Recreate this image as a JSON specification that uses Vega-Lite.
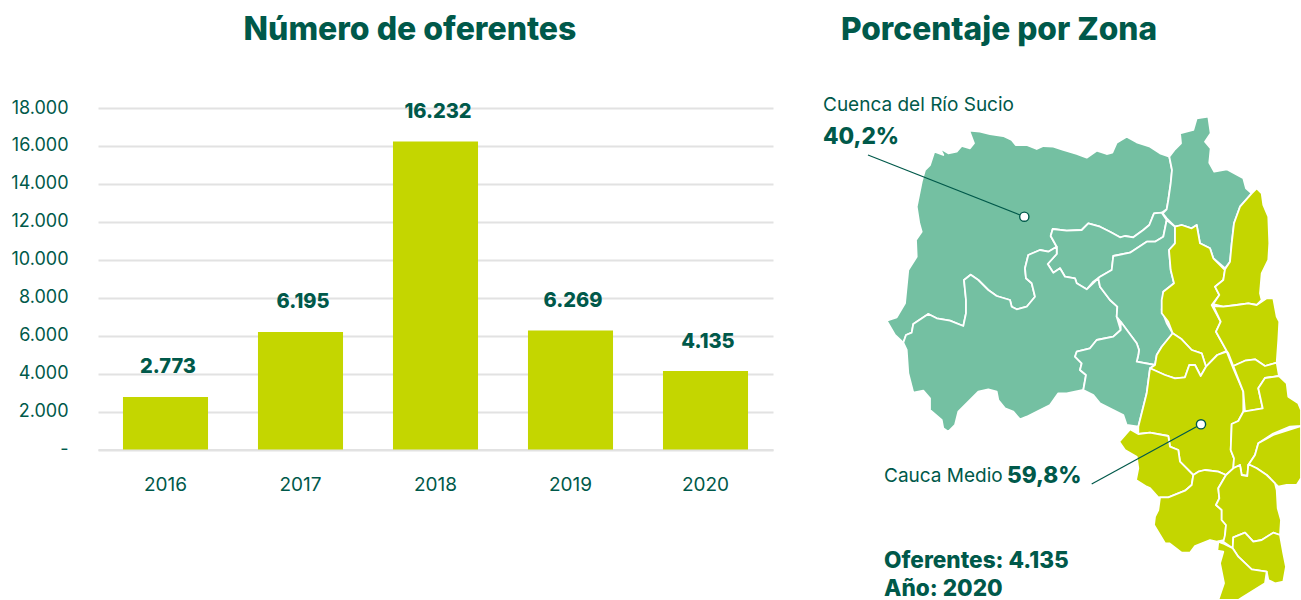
{
"$schema":"https://vega.github.io/schema/vega-lite/v6.json",
"padding":{"left":0,"top":14,"right":0,"bottom":0},
"spacing":0,
"background":"white",
"config":{"view":{"stroke":null},"font":"Inter"},
"hconcat":[
{
"width":675,"height":492,
"title":{"text":"Número de oferentes","font":"Inter","fontSize":32,"fontWeight":800,"color":"#00594a","anchor":"middle","dx":-25.5,"offset":52},
"data":{"values":[
{"year":"2016","value":2773,"label":"2.773"},
{"year":"2017","value":6195,"label":"6.195"},
{"year":"2018","value":16232,"label":"16.232"},
{"year":"2019","value":6269,"label":"6.269"},
{"year":"2020","value":4135,"label":"4.135"}]},
"encoding":{
"x":{"field":"year","type":"nominal","sort":null,"title":null,
"scale":{"paddingInner":0.37,"paddingOuter":0.185},
"axis":{"orient":"bottom","offset":-150.5,"labelPadding":26,"labelAngle":0,"ticks":false,"domain":true,"domainColor":"#e2e2e2","domainWidth":2,"labelColor":"#00594a","labelFont":"Inter","labelFontSize":19,"labelFontWeight":400,"grid":false}},
"y":{"field":"value","type":"quantitative","title":null,
"scale":{"domain":[-7932.6,18000],"nice":false,"zero":false},
"axis":{"values":[0,2000,4000,6000,8000,10000,12000,14000,16000,18000],"labelExpr":"datum.value==0?'-':replace(format(datum.value,','),',','.')","ticks":false,"domain":false,"grid":true,"gridColor":"#e2e2e2","gridWidth":2,"labelColor":"#00594a","labelFont":"Inter","labelFontSize":18,"labelPadding":30,"minExtent":98,"maxExtent":98}}
},
"layer":[
{"mark":{"type":"bar","color":"#c4d600"}},
{"mark":{"type":"text","font":"Inter","fontSize":20,"fontWeight":800,"color":"#00594a","dy":-29.5,"dx":2.5,"baseline":"middle"},"encoding":{"text":{"field":"label"}}}
]
},
{
"width":528,"height":492,
"title":{"text":"Porcentaje por Zona","font":"Inter","fontSize":31.7,"fontWeight":800,"color":"#00594a","anchor":"middle","dx":-38,"offset":49},
"projection":{"type":"identity","scale":1,"translate":[-773,-108]},
"layer":[
{
"data":{"values":{"type":"FeatureCollection","features":[
{"type":"Feature","properties":{"zona":"Cuenca del Río Sucio"},"geometry":{"type":"Polygon","coordinates":[[[969.3,130.7],[980,131.7],[990,134],[1003.3,136],[1011.7,140],[1015.7,145],[1026.7,145],[1036.7,149],[1043.3,146],[1053.3,146.7],[1063.3,150],[1076.7,154],[1086.7,157.7],[1096.7,150.7],[1106.7,154],[1112.3,152.7],[1116.7,142.7],[1126.7,136.7],[1136.7,142.3],[1150,146.7],[1160,153.3],[1169.3,156.7],[1172,170],[1170.7,183.3],[1168.3,200],[1166.7,209.3],[1161.7,212.7],[1154,213.3],[1149.3,225],[1143.3,230],[1133.3,237.3],[1125,236],[1120,237.3],[1110,231.7],[1100,226.7],[1088.3,223.3],[1081.7,230],[1066.7,230.7],[1052.7,229],[1050.7,236],[1056.7,246.7],[1048.3,251.7],[1040,250],[1028.3,255],[1025,268.3],[1026,278.3],[1031.7,283.3],[1035,296.7],[1026.7,306.7],[1016.7,309.3],[1011.7,306.7],[1010,300],[996.7,296],[988.3,290],[978.3,280],[970.7,274.7],[964,280],[966,300],[966,313.3],[963.3,326],[950,320.7],[936.7,318.3],[928.3,314],[913.3,324],[911.7,332.7],[906,335],[903.3,342.7],[895,335],[886.7,320.7],[896.7,317.3],[905,303.3],[908.3,270],[916.7,256.7],[916,240],[921.7,231.7],[919.3,223.3],[916.7,206.7],[921.7,181.7],[925,170],[930,165],[934.3,151.7],[939.3,153.3],[943.3,155],[940,148.3],[948.3,153.3],[956.7,151.7],[961.7,146],[970,148.3],[974,143.3],[969.3,130.7]]]}},
{"type":"Feature","properties":{"zona":"Cuenca del Río Sucio"},"geometry":{"type":"Polygon","coordinates":[[[1169.3,156.7],[1175,149.3],[1181,143.3],[1180,133.3],[1193.3,130],[1196.7,118.3],[1208.3,116.7],[1210.7,133.3],[1205,141.7],[1210.7,148.3],[1209.3,162.7],[1214.3,171.7],[1226.7,169.3],[1243.3,178.3],[1246,188.3],[1251.7,193.3],[1240,206.7],[1234,223.3],[1231.7,243.3],[1230,261.7],[1225,268.3],[1213.3,258.3],[1210,248.3],[1200,243.3],[1196.7,225],[1191.7,228.3],[1181.7,225],[1175,226.7],[1166.7,218.3],[1162.7,213.3],[1166.7,209.3],[1168.3,200],[1170.7,183.3],[1172,170],[1169.3,156.7]]]}},
{"type":"Feature","properties":{"zona":"Cuenca del Río Sucio"},"geometry":{"type":"Polygon","coordinates":[[[1052.7,229],[1066.7,230.7],[1081.7,230],[1088.3,223.3],[1100,226.7],[1110,231.7],[1120,237.3],[1125,236],[1133.3,237.3],[1143.3,230],[1149.3,225],[1154,213.3],[1161.7,212.7],[1166.7,220],[1163.3,236.7],[1155,241.7],[1146.7,241.7],[1130,252.7],[1113.3,256],[1111.7,270],[1100,276.7],[1093.3,281.7],[1086.7,289.3],[1076.7,283.3],[1075,278.3],[1065,276.7],[1060,268.3],[1053.3,272.7],[1047.7,264],[1056.7,254],[1056.7,246.7],[1050.7,236],[1052.7,229]]]}},
{"type":"Feature","properties":{"zona":"Cuenca del Río Sucio"},"geometry":{"type":"Polygon","coordinates":[[[1056.7,246.7],[1056.7,254],[1047.7,264],[1053.3,272.7],[1060,268.3],[1065,276.7],[1075,278.3],[1076.7,283.3],[1086.7,289.3],[1098.3,278.3],[1100,286.7],[1110,300],[1117.3,306.7],[1116.7,316.7],[1120.7,330],[1113.3,336.7],[1096.7,340],[1090,348.3],[1076.7,351.7],[1075,356.7],[1081.7,363.3],[1080,370],[1086,375],[1083.3,390],[1066.7,393.3],[1058.3,393.3],[1050,405],[1040,410],[1026.7,416.7],[1020,419.3],[1013.3,411.7],[1005,408.3],[998.3,400],[996.7,391.7],[988.3,389.3],[978.3,391.7],[968.3,401.7],[958.3,411.7],[955,425],[948.3,431.7],[943.3,428.3],[941.7,420],[930,410],[930,398.3],[923.3,390.7],[913.3,392.7],[908.3,373.3],[906.7,350],[903.3,342.7],[906,335],[911.7,332.7],[913.3,324],[928.3,314],[936.7,318.3],[950,320.7],[963.3,326],[966,313.3],[966,300],[964,280],[970.7,274.7],[978.3,280],[988.3,290],[996.7,296],[1010,300],[1011.7,306.7],[1016.7,309.3],[1026.7,306.7],[1035,296.7],[1031.7,283.3],[1026,278.3],[1025,268.3],[1028.3,255],[1040,250],[1048.3,251.7],[1056.7,246.7]]]}},
{"type":"Feature","properties":{"zona":"Cuenca del Río Sucio"},"geometry":{"type":"Polygon","coordinates":[[[1166.7,220],[1175,226.7],[1175,243.3],[1169,250],[1170.7,270],[1174,283.3],[1163.3,291.7],[1161.7,310],[1166.7,323.3],[1172.7,333.3],[1161.7,346.7],[1156.7,355],[1155,365],[1136.7,361.7],[1138.3,355],[1139,350],[1136.7,343.3],[1120.7,321.7],[1116.7,316.7],[1117.3,306.7],[1110,300],[1100,286.7],[1098.3,278.3],[1100,276.7],[1111.7,270],[1113.3,256],[1130,252.7],[1146.7,241.7],[1155,241.7],[1163.3,236.7],[1166.7,220]]]}},
{"type":"Feature","properties":{"zona":"Cuenca del Río Sucio"},"geometry":{"type":"Polygon","coordinates":[[[1120.7,321.7],[1136.7,343.3],[1139,350],[1138.3,355],[1136.7,361.7],[1155,365],[1150,368.3],[1146.7,393.3],[1138.3,426.7],[1126.7,425],[1123.3,415],[1113.3,410],[1100,403.3],[1093.3,395],[1083.3,390],[1086,375],[1080,370],[1081.7,363.3],[1075,356.7],[1076.7,351.7],[1090,348.3],[1096.7,340],[1113.3,336.7],[1120.7,330],[1120.7,321.7]]]}},
{"type":"Feature","properties":{"zona":"Cauca Medio"},"geometry":{"type":"Polygon","coordinates":[[[1175,226.7],[1181.7,225],[1191.7,228.3],[1196.7,225],[1200,243.3],[1210,248.3],[1213.3,258.3],[1225,270],[1223.3,280],[1215,286.7],[1219.3,295],[1211.7,305],[1220.7,321.7],[1216,331.7],[1226.7,350.7],[1217.3,355],[1206,366.7],[1201.7,353.3],[1191.7,350],[1181.7,339.3],[1172.7,333.3],[1168.3,321.7],[1161.7,313.3],[1161.7,300],[1163.3,291.7],[1174,283.3],[1170.7,270],[1169,250],[1175,243.3],[1175,226.7]]]}},
{"type":"Feature","properties":{"zona":"Cauca Medio"},"geometry":{"type":"Polygon","coordinates":[[[1172.7,333.3],[1181.7,339.3],[1191.7,350],[1201.7,353.3],[1206,366.7],[1200.7,376],[1195,365],[1189.3,365],[1185,377.3],[1175,378.3],[1165,375],[1150,368.3],[1155,365],[1156.7,355],[1161.7,346.7],[1172.7,333.3]]]}},
{"type":"Feature","properties":{"zona":"Cauca Medio"},"geometry":{"type":"Polygon","coordinates":[[[1150,368.3],[1165,375],[1175,378.3],[1185,377.3],[1189.3,365],[1195,365],[1200.7,376],[1206,366.7],[1217.3,355],[1226.7,351.7],[1233.3,368.3],[1243.3,391.7],[1243.3,411.7],[1238.3,421],[1231.7,424],[1230.7,450],[1234,458.3],[1233.3,468.3],[1226,475],[1218.3,471.7],[1205,470],[1198.3,471.7],[1193.3,475],[1180,461.7],[1178.3,450],[1170,446.7],[1168.3,436],[1150,432.7],[1138.3,434],[1138.3,426.7],[1146.7,393.3],[1150,368.3]]]}},
{"type":"Feature","properties":{"zona":"Cauca Medio"},"geometry":{"type":"Polygon","coordinates":[[[1251.7,193.3],[1256.7,188.3],[1261.7,193.3],[1263.3,205],[1268.3,216.7],[1269.3,243.3],[1268.3,260],[1261.7,273.3],[1260,293.3],[1261.7,300],[1256.7,305],[1248.3,303.3],[1236.7,305],[1223.3,306.7],[1213.3,304],[1219.3,295],[1215,286.7],[1223.3,280],[1225,269.3],[1230,261.7],[1231.7,243.3],[1234,223.3],[1240,206.7],[1251.7,193.3]]]}},
{"type":"Feature","properties":{"zona":"Cauca Medio"},"geometry":{"type":"Polygon","coordinates":[[[1213.3,306],[1223.3,306.7],[1236.7,305],[1248.3,303.3],[1256.7,305],[1266.7,298.3],[1273.3,298.3],[1276.7,316.7],[1279.3,321.7],[1278.3,340],[1276.7,362.7],[1265,366],[1255,359.3],[1245,360.7],[1233.3,366],[1228.3,353.3],[1226.7,351],[1216,331.7],[1220.7,321.7],[1213.3,306]]]}},
{"type":"Feature","properties":{"zona":"Cauca Medio"},"geometry":{"type":"Polygon","coordinates":[[[1233.3,366],[1245,360.7],[1255,359.3],[1265,366],[1276.7,362.7],[1279,376],[1265,378],[1258.3,388.3],[1262.7,408.3],[1245,411.7],[1243.3,391.7],[1233.3,366]]]}},
{"type":"Feature","properties":{"zona":"Cauca Medio"},"geometry":{"type":"Polygon","coordinates":[[[1279,376],[1286.7,383.3],[1288.3,396.7],[1298.3,403.3],[1301,410],[1301,426],[1290,426.7],[1273.3,433.5],[1258.3,443.3],[1255,455],[1248.3,465],[1247.3,476],[1241.7,475],[1240,465],[1233.3,468.3],[1234,458.3],[1230.7,450],[1231.7,424],[1238.3,421],[1243.3,411.7],[1262.7,408.3],[1258.3,388.3],[1265,378],[1279,376]]]}},
{"type":"Feature","properties":{"zona":"Cauca Medio"},"geometry":{"type":"Polygon","coordinates":[[[1301,426],[1273.3,435],[1258.3,443.3],[1255,455],[1248.3,465],[1250,465],[1256.7,468.3],[1266.7,475],[1275,483.3],[1278.3,486.7],[1286.7,485],[1296.7,485],[1301,478.3],[1301,426]]]}},
{"type":"Feature","properties":{"zona":"Cauca Medio"},"geometry":{"type":"Polygon","coordinates":[[[1138.3,434],[1130,429.3],[1119.3,441.7],[1125,450],[1136.7,456.7],[1138.3,468.3],[1136,480],[1146.7,486.7],[1150,488],[1158.3,497.3],[1168.3,497.3],[1185,490.7],[1191.7,485],[1193.3,475],[1180,461.7],[1178.3,450],[1170,446.7],[1168.3,436],[1150,432.7],[1138.3,434]]]}},
{"type":"Feature","properties":{"zona":"Cauca Medio"},"geometry":{"type":"Polygon","coordinates":[[[1160,497.3],[1158.3,510],[1155,516.7],[1154,525],[1165,543.3],[1169.3,543.3],[1181.7,552.7],[1190,552.7],[1195,546],[1210,540],[1216.7,541.7],[1225,540],[1225,535],[1226,525],[1221.7,520],[1221.7,510],[1216,505],[1219.3,498.3],[1218.3,488.3],[1226,475],[1218.3,471.7],[1205,470],[1198.3,471.7],[1193.3,475],[1191.7,485],[1185,490.7],[1168.3,497.3],[1160,497.3]]]}},
{"type":"Feature","properties":{"zona":"Cauca Medio"},"geometry":{"type":"Polygon","coordinates":[[[1226,475],[1233.3,468.3],[1240,465],[1241.7,475],[1247.3,476],[1248.3,465],[1250,465],[1256.7,468.3],[1266.7,475],[1275,483.3],[1276.7,490],[1277.7,508.3],[1281,520],[1280,535],[1273.3,532.7],[1261.7,540],[1253.3,541.7],[1245,532.7],[1233.3,537.3],[1232.7,548.3],[1223.3,541.7],[1225,535],[1226,525],[1221.7,520],[1221.7,510],[1216,505],[1219.3,498.3],[1218.3,488.3],[1226,475]]]}},
{"type":"Feature","properties":{"zona":"Cauca Medio"},"geometry":{"type":"Polygon","coordinates":[[[1233.3,537.3],[1245,532.7],[1253.3,541.7],[1261.7,540],[1273.3,532.7],[1280,535],[1283.3,553.3],[1286,566.7],[1283.3,581.7],[1275,583.3],[1268.3,580],[1266.7,571.7],[1251.7,569.3],[1238.3,556.7],[1232.7,548.3],[1233.3,537.3]]]}},
{"type":"Feature","properties":{"zona":"Cauca Medio"},"geometry":{"type":"Polygon","coordinates":[[[1218.3,541.7],[1222.7,543.3],[1232.7,548.3],[1238.3,556.7],[1251.7,569.3],[1266.7,571.7],[1265,583.3],[1243.3,596.7],[1238.3,600],[1218.3,600],[1224,583.3],[1220,563.3],[1223.3,551.7],[1217.3,550.7],[1218.3,541.7]]]}}
]},"format":{"type":"json","property":"features"}},
"mark":{"type":"geoshape","stroke":"white","strokeWidth":1.8,"strokeJoin":"round","clip":false},
"encoding":{"color":{"field":"properties.zona","type":"nominal","legend":null,"scale":{"domain":["Cuenca del Río Sucio","Cauca Medio"],"range":["#74c0a2","#c4d600"]}}}
},
{
"data":{"values":[{"lon":868,"lat":155,"lon2":1024.3,"lat2":216.7},{"lon":1091.7,"lat":484,"lon2":1201,"lat2":424.3}]},
"mark":{"type":"rule","color":"#00594a","strokeWidth":1.2,"clip":false},
"encoding":{"longitude":{"field":"lon","type":"quantitative"},"latitude":{"field":"lat","type":"quantitative"},"longitude2":{"field":"lon2"},"latitude2":{"field":"lat2"}}
},
{
"data":{"values":[{"lon":1024.3,"lat":216.7},{"lon":1201,"lat":424.3}]},
"mark":{"type":"point","filled":true,"fill":"white","stroke":"#00594a","strokeWidth":1.4,"size":85,"opacity":1,"clip":false},
"encoding":{"longitude":{"field":"lon","type":"quantitative"},"latitude":{"field":"lat","type":"quantitative"}}
},
{
"data":{"values":[{"t":"Cuenca del Río Sucio","lon":823,"lat":105},{"t":"Cauca Medio","lon":884,"lat":476}]},
"mark":{"type":"text","font":"Inter","fontSize":19,"fontWeight":400,"color":"#00594a","align":"left","baseline":"middle","clip":false},
"encoding":{"longitude":{"field":"lon","type":"quantitative"},"latitude":{"field":"lat","type":"quantitative"},"text":{"field":"t"}}
},
{
"data":{"values":[{"t":"40,2%","lon":823,"lat":137},{"t":"59,8%","lon":1007,"lat":476},{"t":"Oferentes: 4.135","lon":884,"lat":561},{"t":"Año: 2020","lon":884,"lat":588.5}]},
"mark":{"type":"text","font":"Inter","fontSize":22.6,"fontWeight":800,"color":"#00594a","align":"left","baseline":"middle","clip":false},
"encoding":{"longitude":{"field":"lon","type":"quantitative"},"latitude":{"field":"lat","type":"quantitative"},"text":{"field":"t"}}
}
]
}
]
}
